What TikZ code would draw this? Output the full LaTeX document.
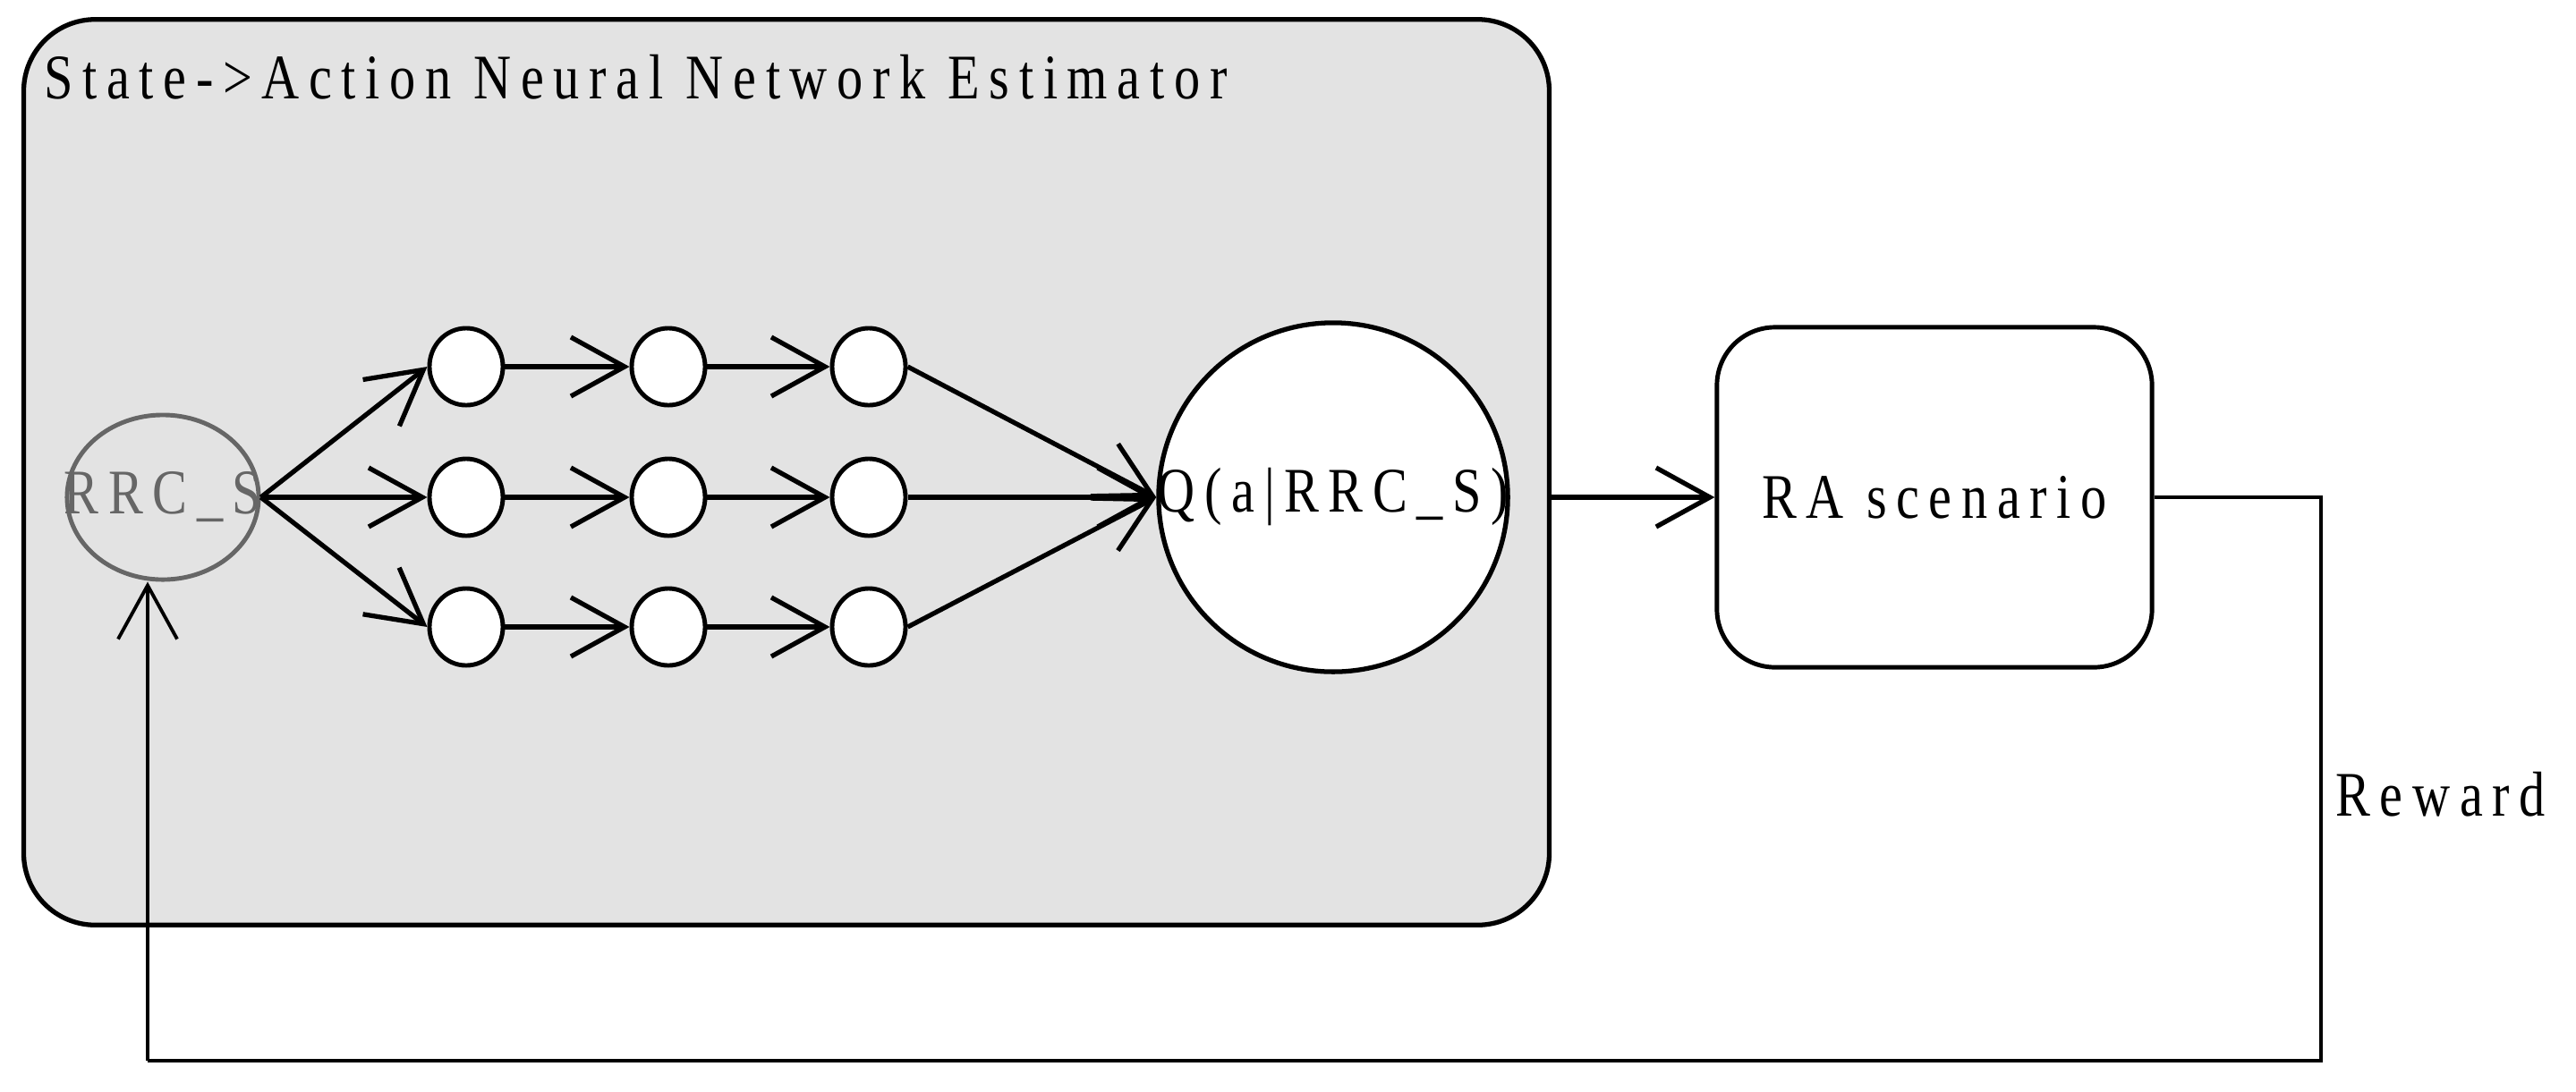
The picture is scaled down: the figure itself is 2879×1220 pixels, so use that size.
\documentclass[tikz,border=0pt]{standalone}
\usepackage{fontspec}
\setmainfont[FakeStretch=0.82,LetterSpace=15]{Liberation Serif}
\usetikzlibrary{arrows.meta,shapes.geometric}
\begin{document}
\begin{tikzpicture}[x=0.01cm, y=-0.01cm,
    font=\fontsize{20.2}{24}\selectfont,
    neuron/.style={draw, ellipse, line width=1.4pt, fill=white, minimum width=0.82cm, minimum height=0.86cm, inner sep=0pt},
    link/.style={-{Straight Barb[length=0.6cm, width=0.66cm]}, line width=1.5pt},
    feedback/.style={line width=1.1pt}]
        \useasboundingbox (0,0) rectangle (2879,1220);

        \node[draw, line width=1.5pt, fill=gray!22, rounded corners=0.8cm, minimum width=17.04cm, minimum height=10.12cm, inner sep=0pt] (est) at (879,528) {};
        \node[anchor=base west] (est-title) at (37,110) {State->Action Neural Network Estimator};

        \node[draw=black!60, ellipse, line width=1.4pt, minimum width=2.14cm, minimum height=1.84cm, inner sep=0pt, label={[text=black!60]center:RRC\_S}] (rrc) at (182,556) {};

        \node[neuron] (h11) at (521,410) {};
        \node[neuron] (h12) at (747,410) {};
        \node[neuron] (h13) at (971,410) {};
        \node[neuron] (h21) at (521,556) {};
        \node[neuron] (h22) at (747,556) {};
        \node[neuron] (h23) at (971,556) {};
        \node[neuron] (h31) at (521,701) {};
        \node[neuron] (h32) at (747,701) {};
        \node[neuron] (h33) at (971,701) {};

        \node[draw, circle, fill=white, line width=1.5pt, minimum size=3.9cm, inner sep=0pt, label=center:{Q(a|RRC\_S)}] (q) at (1490,556) {};
        \node[draw, rounded corners=0.65cm, line width=1.4pt, minimum width=4.86cm, minimum height=3.8cm] (ra) at (2162,556) {RA scenario};
        \node[anchor=base west] (reward) at (2598,912) {Reward};

        \coordinate (rwd-corner) at (2594,1186);
        \coordinate (rwd-end) at (165,1186);

        \draw[link] (rrc.east) -- (h11.west);
        \draw[link] (rrc.east) -- (h21.west);
        \draw[link] (rrc.east) -- (h31.west);
        \draw[link] (h11) -- (h12);
        \draw[link] (h12) -- (h13);
        \draw[link] (h21) -- (h22);
        \draw[link] (h22) -- (h23);
        \draw[link] (h31) -- (h32);
        \draw[link] (h32) -- (h33);
        \draw[link] (h13.east) -- (q.west);
        \draw[link] (h23.east) -- (q.west);
        \draw[link] (h33.east) -- (q.west);
        \draw[link] (q -| est.east) -- (ra.west);
        \draw[feedback] (ra.east) -| (rwd-corner) -- (rwd-end);
        \draw[link, feedback] (rwd-end) -- (rwd-end |- rrc.south);
\end{tikzpicture}
\end{document}
